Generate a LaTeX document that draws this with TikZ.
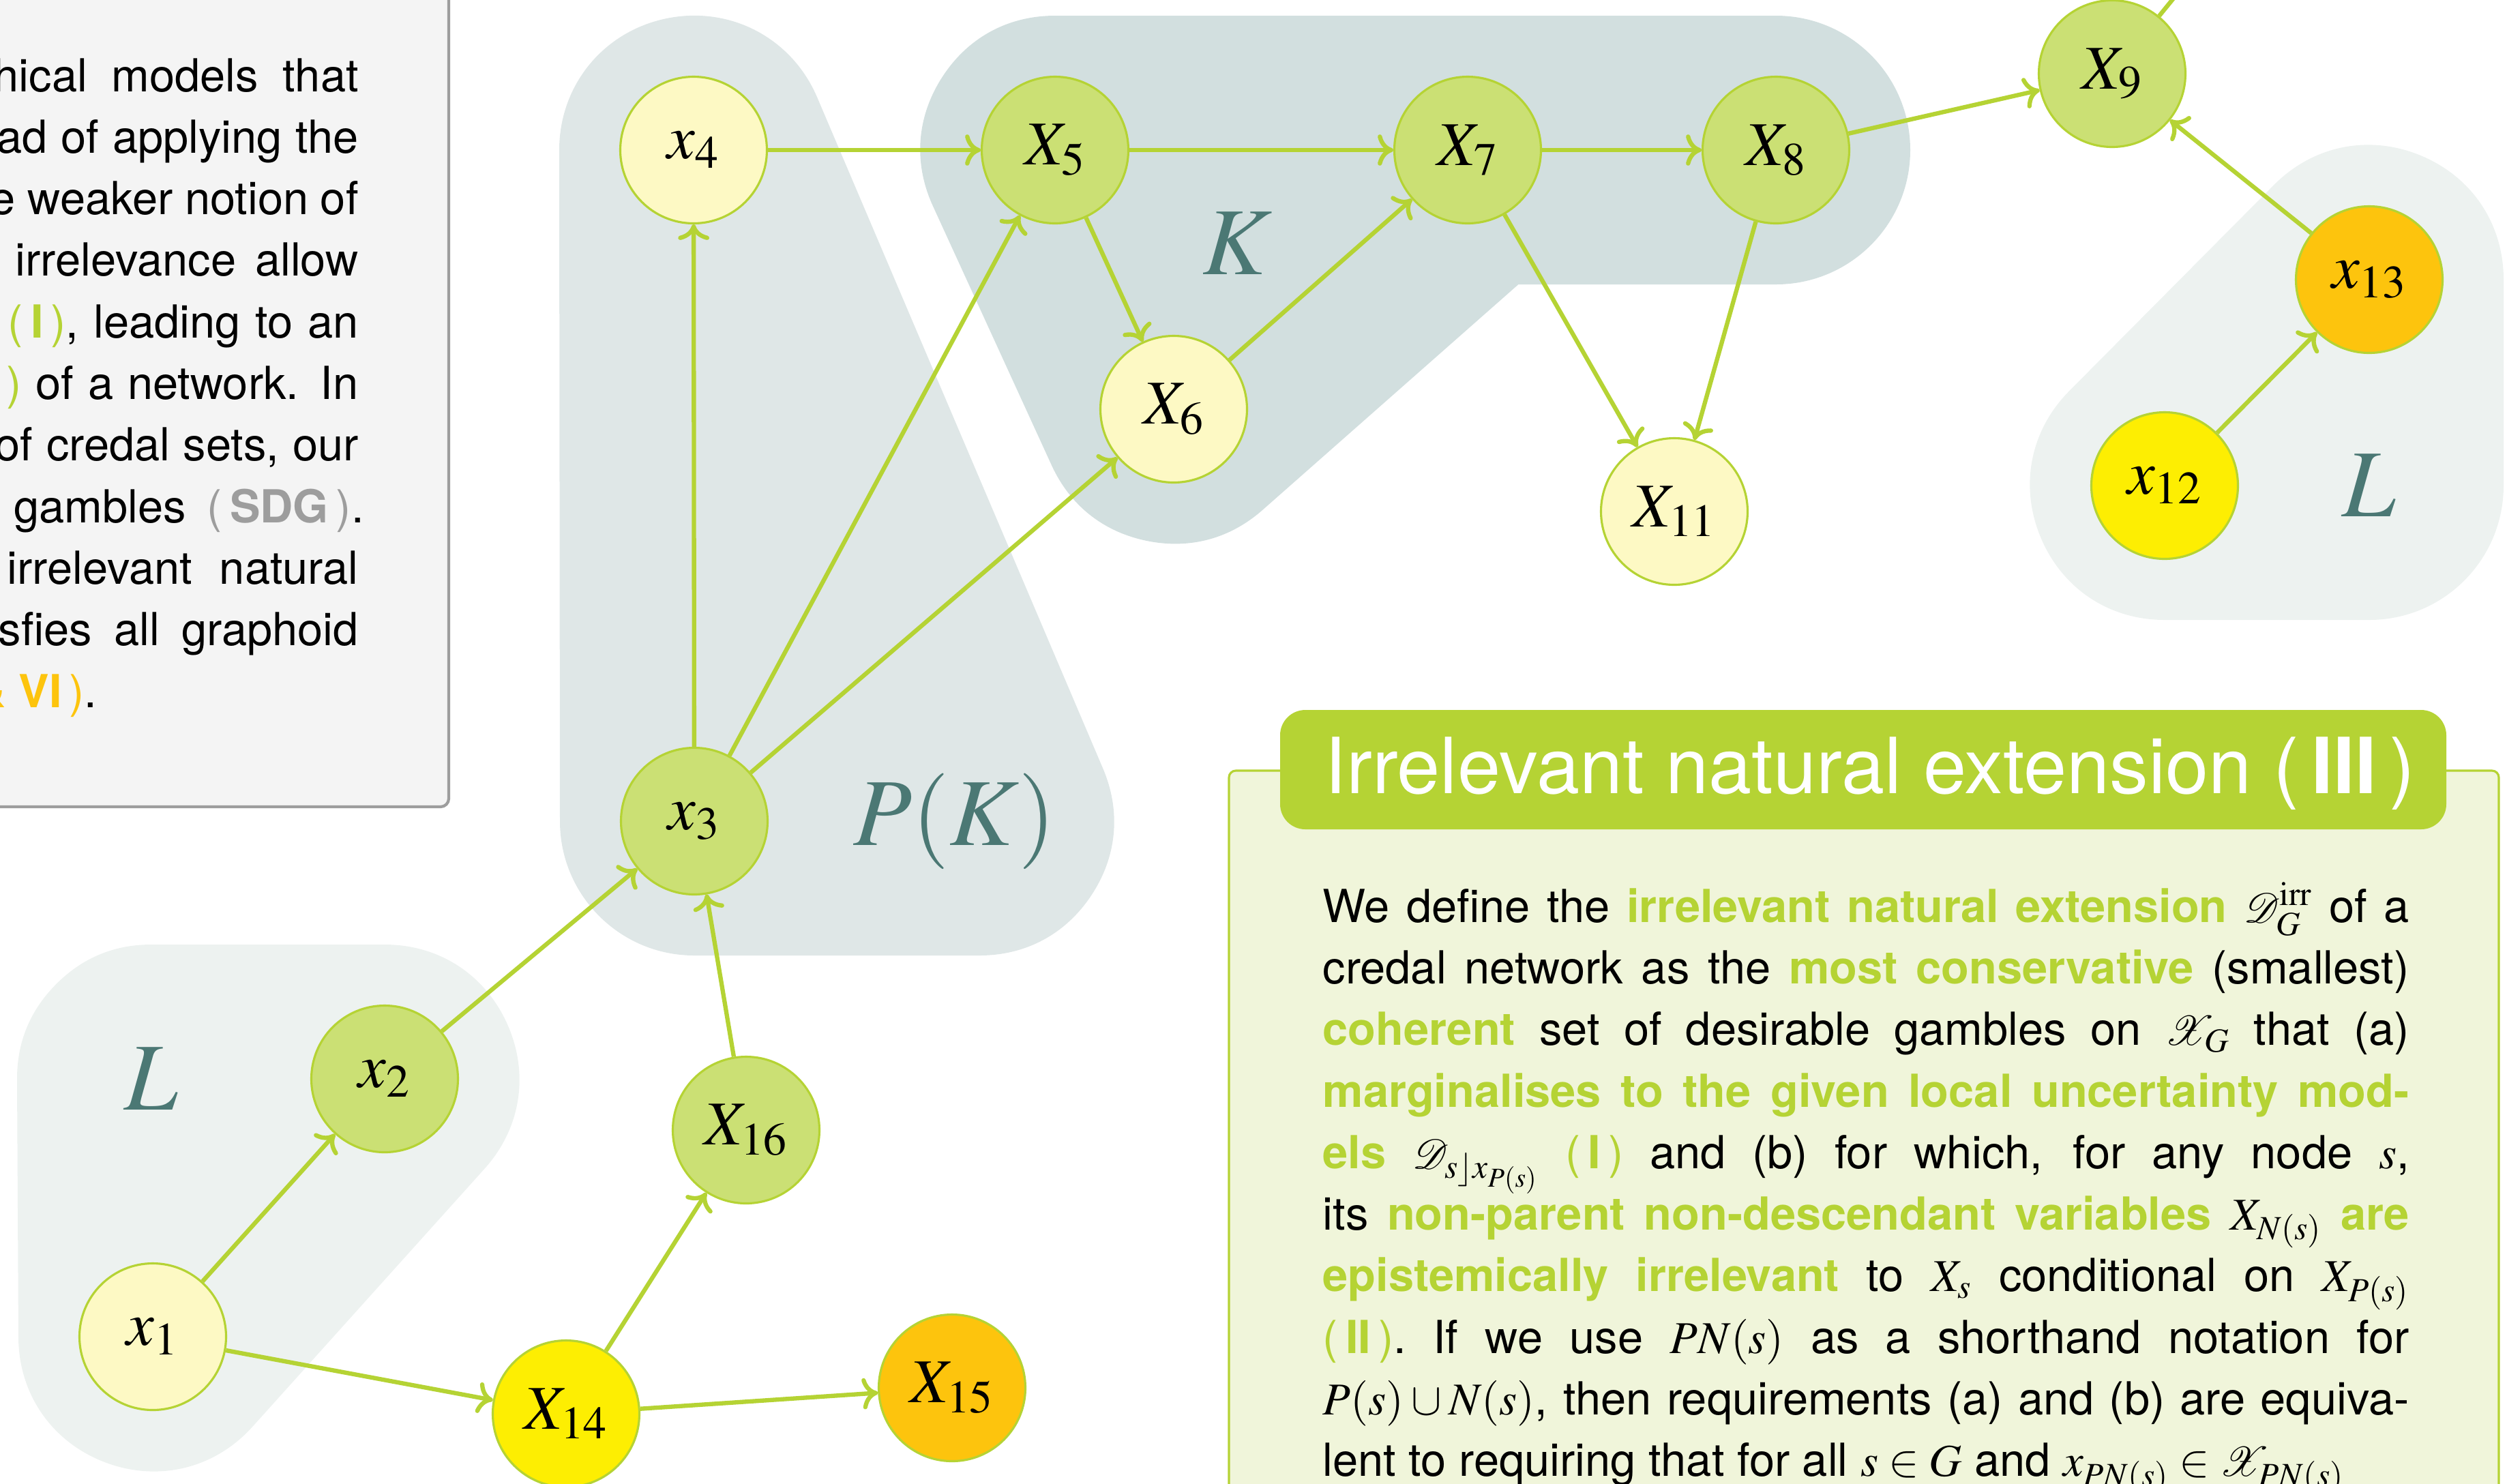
\documentclass[tikz,border=0pt]{standalone}
\usepackage{mathptmx}
\usepackage{mathrsfs}
\usepackage[no-math]{fontspec}
\setmainfont{TeX Gyre Heros}
\usetikzlibrary{arrows.meta,backgrounds}

\definecolor{netgreen}{HTML}{B5D334}
\definecolor{nodegreen}{HTML}{CBE074}
\definecolor{nodepale}{HTML}{FDF9C4}
\definecolor{nodeyellow}{HTML}{FDEE02}
\definecolor{nodeorange}{HTML}{FDC40D}
\definecolor{hullpk}{HTML}{DFE7E7}
\definecolor{hullk}{HTML}{D2DFDF}
\definecolor{hulll}{HTML}{EDF2F0}
\definecolor{hulltext}{HTML}{4B7874}
\definecolor{boxgray}{HTML}{F4F4F4}
\definecolor{boxedge}{HTML}{9D9D9D}
\definecolor{boxgreen}{HTML}{F0F5DA}

\newcommand{\tagnum}[2]{{\color{#2}(\,\textbf{#1}\,)}}
\newcommand{\keyw}[1]{{\color{netgreen}\bfseries #1}}

\begin{document}
\begin{tikzpicture}
        \tikzstyle{var}=[circle, draw=netgreen, line width=0.9pt, minimum size=2.15cm, inner sep=0pt, font=\fontsize{26}{30}\selectfont]
        \tikzstyle{palenode}=[var, fill=nodepale]
        \tikzstyle{greennode}=[var, fill=nodegreen]
        \tikzstyle{yellownode}=[var, fill=nodeyellow]
        \tikzstyle{orangenode}=[var, fill=nodeorange]
        \tikzstyle{edge}=[draw=netgreen, line width=1.8pt, -{Computer Modern Rightarrow[length=6.5pt,width=13pt]}]
        \tikzstyle{hull}=[line width=3.94cm, line join=round, line cap=round]
        \tikzstyle{hulllabel}=[text=hulltext, font=\fontsize{40}{45}\selectfont]
        \tikzstyle{bodytext}=[inner sep=0pt, font=\fontsize{19}{25.7}\selectfont]

        \useasboundingbox (0,0) rectangle (36.76,-21.75);

% left text box, only its right part is visible
        \draw[fill=boxgray, draw=boxedge, line width=1.2pt, rounded corners=0.12cm] (-1,1) rectangle (6.58,-11.83);
        \foreach \xs/\w/\txt [count=\i] in {-0.10/5.35/{hical models that}, -0.05/5.30/{ad of applying the},
            -0.15/5.40/{e weaker notion of}, 0.22/5.03/{irrelevance allow},
            0.11/5.14/{\tagnum{I}{netgreen}, leading to an}, 0.09/5.16/{{\color{netgreen})} of a network. In},
            -0.08/5.33/{of credal sets, our}, 0.20/5.13/{gambles \tagnum{SDG}{boxedge}.},
            0.10/5.15/{irrelevant natural}, -0.03/5.28/{sfies all graphoid}}
            \node[bodytext, anchor=base west] (left\i) at (\xs,{-1.34-0.903*(\i-1)}) {\makebox[\w cm][s]{\txt}};
        \node[bodytext, anchor=base west] (left11) at (-0.40,-10.37) {{\color{nodeorange}\textbf{\& VI}\,)}.};

% the network
        \node[palenode] (v4) at (10.17,-2.20) {$x_4$};
        \node[greennode] (v5) at (15.47,-2.20) {$X_5$};
        \node[palenode] (v6) at (17.21,-6.00) {$X_6$};
        \node[greennode] (v7) at (21.52,-2.20) {$X_7$};
        \node[greennode] (v8) at (26.04,-2.20) {$X_8$};
        \node[greennode] (v9) at (30.97,-1.08) {$X_9$};
        \node[palenode] (v11) at (24.55,-7.50) {$X_{11}$};
        \node[yellownode] (v12) at (31.74,-7.12) {$x_{12}$};
        \node[orangenode] (v13) at (34.74,-4.10) {$x_{13}$};
        \node[greennode] (v3) at (10.18,-12.04) {$x_3$};
        \node[greennode] (v2) at (5.64,-15.82) {$x_2$};
        \node[greennode] (v16) at (10.94,-16.57) {$X_{16}$};
        \node[palenode] (v1) at (2.24,-19.60) {$x_1$};
        \node[yellownode] (v14) at (8.30,-20.73) {$X_{14}$};
        \node[orangenode] (v15) at (13.96,-20.35) {$X_{15}$};
        \coordinate (v10) at (33.61,2.16);

        \node[hulllabel] (labK) at (18.14,-3.57) {$K$};
        \node[hulllabel] (labPK) at (14.00,-12.04) {$P(K)$};
        \node[hulllabel] (labL) at (2.22,-15.82) {$L$};
        \node[hulllabel] (labLr) at (34.74,-7.12) {$L$};
        \coordinate (pk) at (14.36,-12.04);

        \draw[edge] (v4) -- (v5);
        \draw[edge] (v5) -- (v7);
        \draw[edge] (v7) -- (v8);
        \draw[edge] (v8) -- (v9);
        \draw[edge] (v9) -- (v10);
        \draw[edge] (v5) -- (v6);
        \draw[edge] (v6) -- (v7);
        \draw[edge] (v7) -- (v11);
        \draw[edge] (v8) -- (v11);
        \draw[edge] (v13) -- (v9);
        \draw[edge] (v12) -- (v13);
        \draw[edge] (v3) -- (v4);
        \draw[edge] (v3) -- (v5);
        \draw[edge] (v3) -- (v6);
        \draw[edge] (v2) -- (v3);
        \draw[edge] (v16) -- (v3);
        \draw[edge] (v1) -- (v2);
        \draw[edge] (v1) -- (v14);
        \draw[edge] (v14) -- (v16);
        \draw[edge] (v14) -- (v15);

        \begin{scope}[on background layer]
            \filldraw[hull, hullpk] (v4.center) -- (v3.center) -- (pk) -- cycle;
            \filldraw[hull, hullk] (v5.center) -- (v8.center) -- (v7.center) -- (v6.center) -- cycle;
            \filldraw[hull, hulll] (labL.center) -- (v2.center) -- (v1.center) -- cycle;
            \filldraw[hull, hulll] (v13.center) -- (v12.center) -- (labLr.center) -- cycle;
        \end{scope}

% right text box
        \draw[fill=boxgreen, draw=netgreen, line width=0.9pt, rounded corners=0.1cm] (18.02,-11.30) rectangle (36.64,-23);
        \fill[netgreen, rounded corners=0.37cm] (18.77,-10.41) rectangle (35.87,-12.16);
        \node[anchor=base west, inner sep=0pt, text=white, font=\fontsize{32.3}{38}\selectfont] (title) at (19.42,-11.63)
            {Irrelevant natural extension (\,\textbf{III}\,)};
        \node[bodytext, anchor=base west, text width=15.93cm, align=justify] (body) at (19.39,-13.52) {%
            We define the \keyw{irrelevant natural extension} $\mathscr{D}^{\mathrm{irr}}_G$ of a\linebreak
            credal network as the \keyw{most conservative} (smallest)\linebreak
            \keyw{coherent} set of desirable gambles on $\mathscr{X}_G$ that (a)\linebreak
            \keyw{marginalises to the given local uncertainty mod-}\linebreak
            \keyw{els} $\mathscr{D}_{s\rfloor x_{P(s)}}$ \tagnum{I}{netgreen} and (b) for which, for any node $s$,\linebreak
            its \keyw{non-parent non-descendant variables} $X_{N(s)}$ \keyw{are}\linebreak
            \keyw{epistemically irrelevant} to $X_s$ conditional on $X_{P(s)}$\linebreak
            \tagnum{II}{netgreen}. If we use $PN(s)$ as a shorthand notation for\linebreak
            $P(s)\cup N(s)$, then requirements (a) and (b) are equiva-\linebreak
            lent to requiring that for all $s\in G$ and $x_{PN(s)}\in\mathscr{X}_{PN(s)}$};

    \end{tikzpicture}
\end{document}
